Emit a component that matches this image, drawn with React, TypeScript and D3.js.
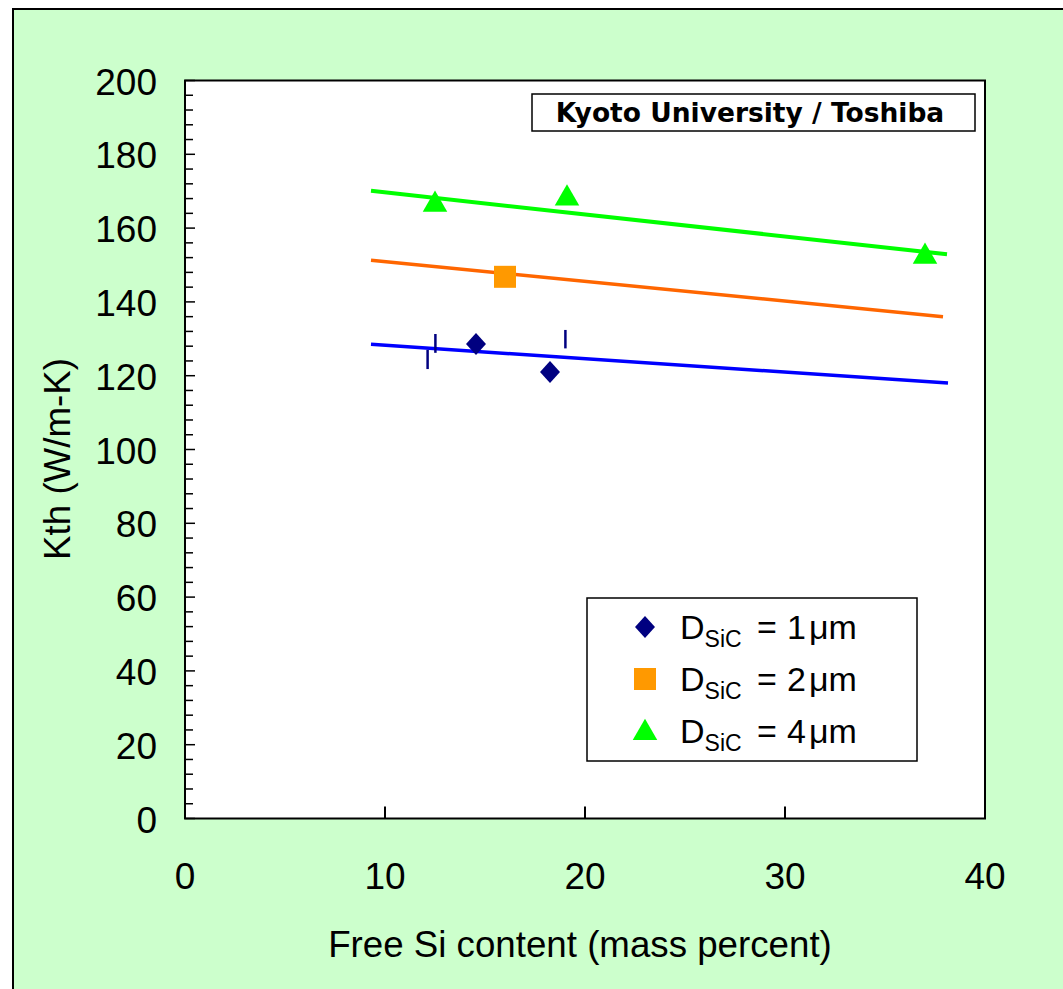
import React from "react";
import * as d3 from "d3";

// Free Si content (mass %) vs thermal conductivity Kth (W/m-K)
const d1X = [14.55, 18.25];
const d1Y = [128.6, 121.0];
const d2X = [16.0];
const d2Y = [146.8];
const d4X = [12.5, 19.1, 37.0];
const d4Y = [166.9, 168.6, 152.8];

// Fitted trend lines: [x start, x end] and [y start, y end]
const fitX = [9.3, 38.1];
const fit1Y = [128.5, 118.0];
const fit2Y = [151.3, 136.0];
const fit4Y = [170.1, 152.9];
const fit1End = 38.15;
const fit2End = 37.9;

// Short vertical bars around the 1 µm series: x, low, high
const barX = [12.13, 12.52, 19.02];
const barLo = [121.8, 126.2, 127.4];
const barHi = [127.0, 131.3, 132.4];

const xTicks = [0, 10, 20, 30, 40];
const yTicks = [0, 20, 40, 60, 80, 100, 120, 140, 160, 180, 200];
const yMinor = d3.range(0, 201, 4);

const legendLabels = ["1", "2", "4"];

const W = 1063;
const H = 989;
const plot = { left: 185, right: 985, top: 80.5, bottom: 818.5 };

export default function App() {
  const x = d3.scaleLinear().domain([0, 40]).range([plot.left, plot.right]);
  const y = d3.scaleLinear().domain([0, 200]).range([plot.bottom, plot.top]);
  const font = "'Liberation Sans', Arial, sans-serif";

  const tri = d3.symbol().type(d3.symbolTriangle).size(260)() as string;
  const sq = (s: number) => `M${-s},${-s}H${s}V${s}H${-s}Z`;
  const dia = (w: number, h: number) => `M0,${-h}L${w},0L0,${h}L${-w},0Z`;

  const line = d3.line<[number, number]>().x((d) => x(d[0])).y((d) => y(d[1]));

  const legendRows = [
    { kind: "d", color: "#000080" },
    { kind: "s", color: "#FF9900" },
    { kind: "t", color: "#00FF00" },
  ];

  const marker = (kind: string, color: string, cx: number, cy: number, key: string) => {
    if (kind === "d")
      return <path key={key} d={dia(10, 11)} transform={`translate(${cx},${cy})`} fill={color} />;
    if (kind === "s")
      return <path key={key} d={sq(11)} transform={`translate(${cx},${cy})`} fill={color} />;
    return <path key={key} d={tri} transform={`translate(${cx},${cy + 2})`} fill={color} />;
  };

  return (
    <svg
      width={W}
      height={H}
      style={{ position: "absolute", left: 0, top: 0, display: "block" }}
      fontFamily={font}
    >
      <rect x={0} y={0} width={W} height={H} fill="#ffffff" />
      <rect x={13} y={9} width={W + 20} height={H + 20} fill="#CCFFCC" stroke="#000" strokeWidth={2} />

      {/* plot area */}
      <rect
        x={plot.left}
        y={plot.top}
        width={plot.right - plot.left}
        height={plot.bottom - plot.top}
        fill="#ffffff"
      />

      {/* y ticks (inward) */}
      {yMinor.map((v) => (
        <line
          key={"ym" + v}
          x1={plot.left}
          x2={plot.left + (v % 20 === 0 ? 10 : 8)}
          y1={y(v)}
          y2={y(v)}
          stroke="#000"
          strokeWidth={1.5}
        />
      ))}
      {/* x ticks (inward) */}
      {xTicks.map((v) => (
        <line
          key={"xt" + v}
          x1={x(v)}
          x2={x(v)}
          y1={plot.bottom}
          y2={plot.bottom - 12}
          stroke="#000"
          strokeWidth={2}
        />
      ))}

      {/* trend lines */}
      <path
        d={line([
          [fitX[0], fit1Y[0]],
          [fit1End, fit1Y[1]],
        ]) as string}
        stroke="#0000FF"
        strokeWidth={3.5}
        fill="none"
      />
      <path
        d={line([
          [fitX[0], fit2Y[0]],
          [fit2End, fit2Y[1]],
        ]) as string}
        stroke="#FF6600"
        strokeWidth={3.5}
        fill="none"
      />
      <path
        d={line([
          [fitX[0], fit4Y[0]],
          [fitX[1], fit4Y[1]],
        ]) as string}
        stroke="#00FF00"
        strokeWidth={4}
        fill="none"
      />

      {/* bars */}
      {barX.map((bx, i) => (
        <line
          key={"b" + i}
          x1={x(bx)}
          x2={x(bx)}
          y1={y(barLo[i])}
          y2={y(barHi[i])}
          stroke="#000080"
          strokeWidth={2.5}
        />
      ))}

      {/* data markers */}
      {d1X.map((v, i) => marker("d", "#000080", x(v), y(d1Y[i]), "d1" + i))}
      {d2X.map((v, i) => marker("s", "#FF9900", x(v), y(d2Y[i]), "d2" + i))}
      {d4X.map((v, i) => marker("t", "#00FF00", x(v), y(d4Y[i]), "d4" + i))}

      {/* plot border */}
      <rect
        x={plot.left}
        y={plot.top}
        width={plot.right - plot.left}
        height={plot.bottom - plot.top}
        fill="none"
        stroke="#000"
        strokeWidth={2}
      />

      {/* tick labels */}
      {yTicks.map((v) => (
        <text
          key={"yl" + v}
          x={157}
          y={y(v) + 14}
          textAnchor="end"
          fontSize={37}
        >
          {v}
        </text>
      ))}
      {xTicks.map((v) => (
        <text key={"xl" + v} x={x(v)} y={889} textAnchor="middle" fontSize={37}>
          {v}
        </text>
      ))}

      {/* axis titles */}
      <text x={580} y={957} textAnchor="middle" fontSize={36.7}>
        Free Si content (mass percent)
      </text>
      <text
        transform={`translate(70,459) rotate(-90)`}
        textAnchor="middle"
        fontSize={36.7}
      >
        Kth (W/m-K)
      </text>

      {/* source box */}
      <rect x={532} y={94} width={443} height={37} fill="#fff" stroke="#000" strokeWidth={1.5} />
      <text
        x={750}
        y={122}
        textAnchor="middle"
        fontSize={26.5}
        fontWeight="bold"
        fontFamily="'DejaVu Sans', Verdana, sans-serif"
      >
        Kyoto University / Toshiba
      </text>

      {/* legend */}
      <rect x={587} y={598} width={330} height={163} fill="#fff" stroke="#000" strokeWidth={1.5} />
      {legendRows.map((r, i) => {
        const cy = 627 + i * 52;
        return (
          <g key={"lg" + i}>
            {marker(r.kind, r.color, 645, cy, "lm" + i)}
            <text x={680} y={cy + 12} fontSize={34}>
              D
              <tspan fontSize={23} dy={8}>
                SiC
              </tspan>
              <tspan dy={-8} x={757}>
                =
              </tspan>
              <tspan x={787}>{legendLabels[i]}</tspan>
              <tspan x={809}>μm</tspan>
            </text>
          </g>
        );
      })}
    </svg>
  );
}
